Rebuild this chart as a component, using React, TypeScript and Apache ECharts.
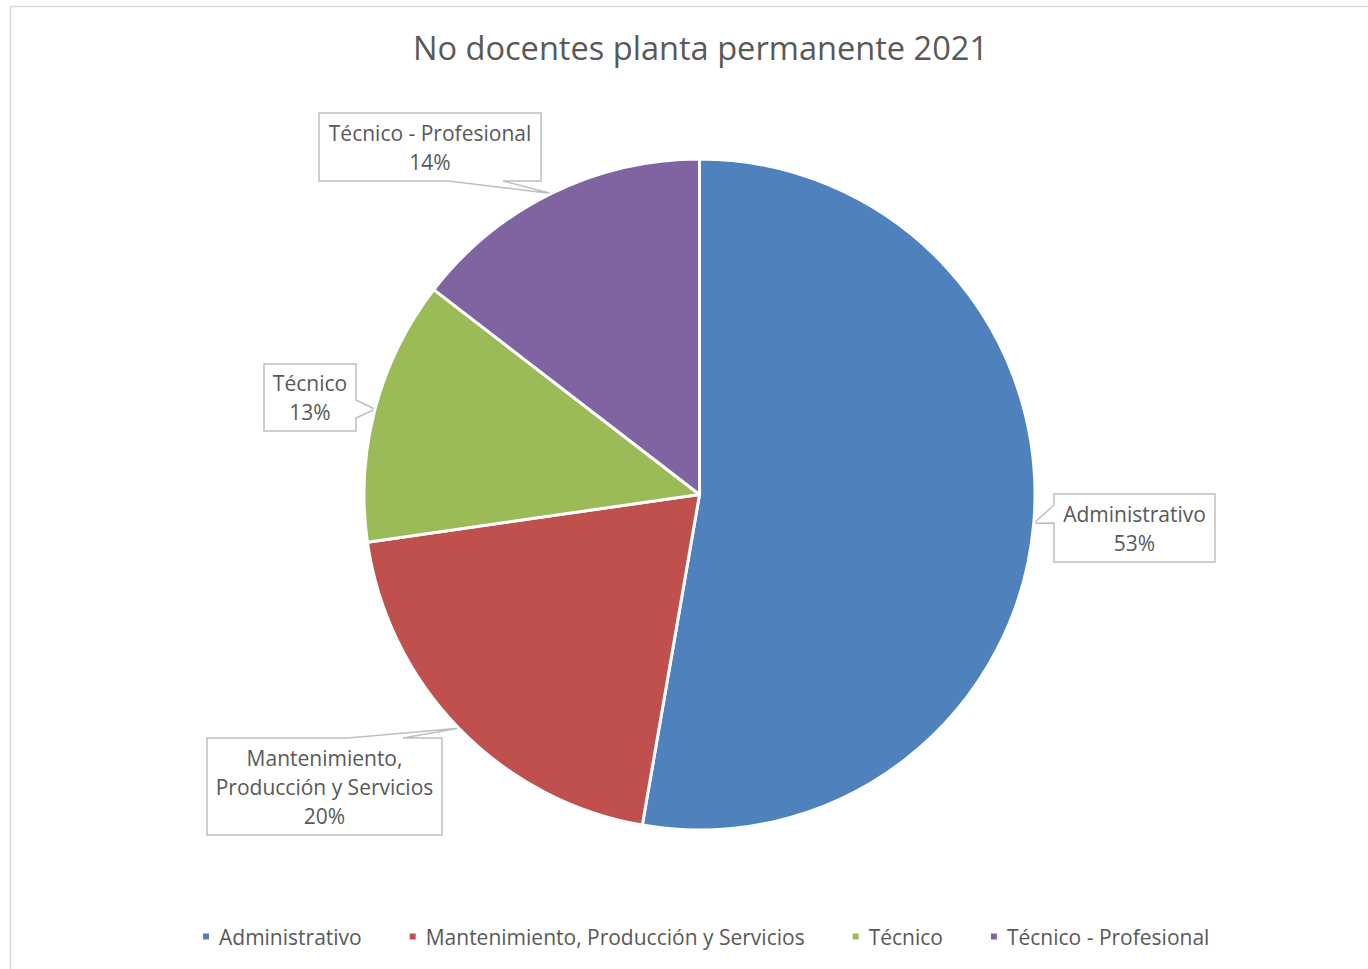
import React, { useEffect, useRef } from "react";
import * as echarts from "echarts";

const TITLE = "No docentes planta permanente 2021";
const categories = [
  "Administrativo",
  "Mantenimiento, Producción y Servicios",
  "Técnico",
  "Técnico - Profesional",
];
const counts = [29, 11, 7, 8];
const colors = ["#4F81BD", "#C0504D", "#9BBB59", "#8064A2"];

// Callout boxes (layout only): [left, top, right, bottom], wedge side, wedge span on that side
type Box = { rect: [number, number, number, number]; side: number; span: [number, number] };
const calloutBoxes: Box[] = [
  { rect: [1054, 494, 1215, 562], side: 3, span: [505, 523] },
  { rect: [207, 738, 442, 835], side: 0, span: [348, 403] },
  { rect: [264, 364, 356, 431], side: 1, span: [400, 418] },
  { rect: [319, 113, 541, 181], side: 2, span: [448, 503] },
];

const FONT = "'Open Sans', Lato, sans-serif";
const TEXT = "#595959";

function calloutPath(box: Box, tip: number[]) {
  const [l, t, r, b] = box.rect;
  const corners = [
    [l, t],
    [r, t],
    [r, b],
    [l, b],
  ];
  const s = box.side;
  const lo = Math.min(box.span[0], box.span[1]);
  const hi = Math.max(box.span[0], box.span[1]);
  let w1: number[], w2: number[];
  if (s === 0) { w1 = [lo, t]; w2 = [hi, t]; }
  else if (s === 1) { w1 = [r, lo]; w2 = [r, hi]; }
  else if (s === 2) { w1 = [hi, b]; w2 = [lo, b]; }
  else { w1 = [l, hi]; w2 = [l, lo]; }
  return [
    tip,
    w2,
    corners[(s + 1) % 4],
    corners[(s + 2) % 4],
    corners[(s + 3) % 4],
    corners[s],
    w1,
    tip,
  ];
}

export default function App() {
  const ref = useRef<HTMLDivElement>(null);
  useEffect(() => {
    document.body.style.margin = "0";
    const chart = echarts.init(ref.current!, null, { renderer: "svg" });
    chart.setOption({
      animation: false,
      backgroundColor: "#ffffff",
      color: colors,
      graphic: [
        {
          type: "rect",
          shape: { x: 10.5, y: 6.5, width: 1420, height: 1000 },
          style: { fill: "none", stroke: "#d9d9d9", lineWidth: 1.5 },
          silent: true,
        },
      ],
      title: {
        text: TITLE,
        left: 695.5,
        textAlign: "center",
        top: 26,
        textStyle: { fontFamily: FONT, fontSize: 32.6, fontWeight: "normal", color: TEXT },
      },
      legend: {
        left: 201,
        top: 926,
        padding: 0,
        icon: "rect",
        itemWidth: 8,
        itemHeight: 8,
        itemGap: 46,
        textStyle: { fontFamily: FONT, fontSize: 21, color: TEXT, padding: [0, 0, 0, 4] },
        data: categories,
      },
      series: [
        {
          type: "pie",
          center: [699.5, 494.5],
          radius: 335.5,
          startAngle: 90,
          clockwise: true,
          percentPrecision: 0,
          avoidLabelOverlap: false,
          itemStyle: { borderColor: "#ffffff", borderWidth: 3 },
          label: {
            show: true,
            position: "outside",
            fontFamily: FONT,
            fontSize: 21,
            lineHeight: 29,
            color: TEXT,
            align: "center",
            formatter: (p: any) => p.name.replace(", ", ",\n") + "\n" + p.percent + "%",
          },
          labelLine: {
            show: true,
            length: 10,
            length2: 10,
            lineStyle: { color: "#bfbfbf", width: 1.5 },
          },
          labelLayout: (params: any) => {
            const box = calloutBoxes[params.dataIndex];
            const [l, t, r, b] = box.rect;
            const tip = params.labelLinePoints ? params.labelLinePoints[0] : [l, t];
            return {
              x: (l + r) / 2,
              y: (t + b) / 2,
              align: "center",
              verticalAlign: "middle",
              labelLinePoints: calloutPath(box, tip),
            };
          },
          emphasis: { disabled: true },
          data: categories.map((c, i) => ({ name: c, value: counts[i] })),
        },
      ],
    });
    return () => chart.dispose();
  }, []);
  return <div ref={ref} style={{ width: 1368, height: 969 }} />;
}
